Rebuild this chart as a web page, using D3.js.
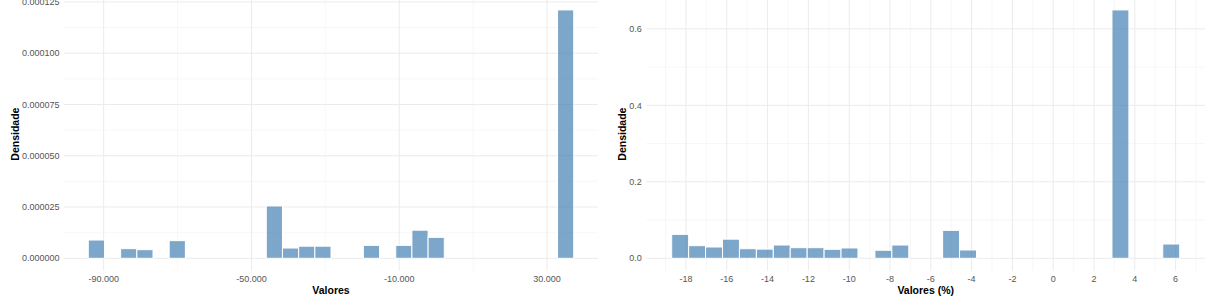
<!DOCTYPE html>
<html>
<head>
<meta charset="utf-8">
<script src="https://cdn.jsdelivr.net/npm/d3@7"></script>
<style>
  html, body { margin: 0; padding: 0; background: #fff; }
  svg { display: block; font-family: "Liberation Sans", Arial, sans-serif; }
</style>
</head>
<body>
<svg id="chart" width="1212" height="303"></svg>
<script>
// ── Data: histogram densities (30 bins each) ────────────
const absBinStart = -94170;
const absBinWidth = 4380;
const absDensity = [
  8.9e-6, 0, 4.7e-6, 4.2e-6, 0, 8.6e-6, 0, 0, 0, 0,
  0, 25.5e-6, 5.0e-6, 5.9e-6, 5.9e-6, 0, 0, 6.3e-6, 0, 6.3e-6,
  13.7e-6, 10.2e-6, 0, 0, 0, 0, 0, 0, 0, 121.1e-6
];
const absXMajor = [-90000, -50000, -10000, 30000];
const absXMinor = [-70000, -30000, 10000];
const absYMajor = [0, 0.000025, 0.00005, 0.000075, 0.0001, 0.000125];

const pctBinStart = -18.70;
const pctBinWidth = 0.830;
const pctDensity = [
  0.0626, 0.033, 0.0295, 0.050, 0.025, 0.024, 0.0347, 0.0277, 0.0277, 0.0235,
  0.027, 0, 0.021, 0.0347, 0, 0, 0.073, 0.0217, 0, 0,
  0, 0, 0, 0, 0, 0, 0.6496, 0, 0, 0.0373
];
const pctXMajor = [-18, -16, -14, -12, -10, -8, -6, -4, -2, 0, 2, 4, 6];
const pctXMinor = [-19, -17, -15, -13, -11, -9, -7, -5, -3, -1, 1, 3, 5, 7];
const pctYMajor = [0, 0.2, 0.4, 0.6];

// pt-BR style numbers ("-90.000")
const ptBR = d3.formatLocale({ decimal: ',', thousands: '.', grouping: [3], currency: ['R$', ''], minus: '-' });
const fmtThousands = ptBR.format(',.0f');
const fmtSix = d3.format('.6f');
const fmtOne = d3.format('.1f');
const fmtInt = d => d3.format('d')(d).replace('\u2212', '-');

const BAR_FILL = 'rgba(70,130,180,0.7)';
const GRID_MAJOR = '#ebebeb';
const GRID_MINOR = '#f4f4f4';
const TEXT_GREY = '#555';

const svg = d3.select('#chart');

function drawHistogram(opts) {
  const { binStart, binWidth, density, xMajor, xMinor, yMajor,
          xRange, yLabelX, xFmt, yFmt, xTitle } = opts;
  const yRange = [270.7, -2.5];

  const lo = binStart, hi = binStart + binWidth * density.length;
  const span = hi - lo;
  const x = d3.scaleLinear().domain([lo - span * 0.05, hi + span * 0.05]).range(xRange);
  const yMax = d3.max(density);
  const y = d3.scaleLinear().domain([-yMax * 0.05, yMax * 1.05]).range(yRange);

  const g = svg.append('g');

  // minor grid (half-steps between major y ticks)
  const yStep = yMajor[1] - yMajor[0];
  const yMinor = yMajor.map(v => v + yStep / 2).filter(v => y(v) > yRange[1]);
  g.append('g').selectAll('line').data(yMinor).join('line')
    .attr('x1', xRange[0]).attr('x2', xRange[1])
    .attr('y1', d => y(d)).attr('y2', d => y(d))
    .attr('stroke', GRID_MINOR).attr('stroke-width', 0.7);
  g.append('g').selectAll('line').data(xMinor.filter(v => x(v) >= xRange[0] && x(v) <= xRange[1])).join('line')
    .attr('x1', d => x(d)).attr('x2', d => x(d))
    .attr('y1', yRange[0]).attr('y2', yRange[1])
    .attr('stroke', GRID_MINOR).attr('stroke-width', 0.7);

  // major grid
  g.append('g').selectAll('line').data(yMajor).join('line')
    .attr('x1', xRange[0]).attr('x2', xRange[1])
    .attr('y1', d => y(d)).attr('y2', d => y(d))
    .attr('stroke', GRID_MAJOR).attr('stroke-width', 1);
  g.append('g').selectAll('line').data(xMajor).join('line')
    .attr('x1', d => x(d)).attr('x2', d => x(d))
    .attr('y1', yRange[0]).attr('y2', yRange[1])
    .attr('stroke', GRID_MAJOR).attr('stroke-width', 1);

  // bars
  g.append('g').selectAll('rect').data(density).join('rect')
    .attr('x', (d, i) => x(binStart + i * binWidth))
    .attr('width', x(binWidth) - x(0))
    .attr('y', d => y(d))
    .attr('height', d => y(0) - y(d))
    .attr('fill', BAR_FILL)
    .attr('stroke', d => d > 0 ? '#fff' : 'none')
    .attr('stroke-width', 1);

  // tick labels
  g.append('g').selectAll('text').data(xMajor).join('text')
    .attr('x', d => x(d)).attr('y', 281.5)
    .attr('text-anchor', 'middle')
    .attr('font-size', 9).attr('fill', TEXT_GREY)
    .text(xFmt);
  g.append('g').selectAll('text').data(yMajor).join('text')
    .attr('x', xRange[0] - 4.5).attr('y', d => y(d) + 3.2)
    .attr('text-anchor', 'end')
    .attr('font-size', 9).attr('fill', TEXT_GREY)
    .text(yFmt);

  // axis titles
  g.append('text')
    .attr('x', (xRange[0] + xRange[1]) / 2).attr('y', 294)
    .attr('text-anchor', 'middle')
    .attr('font-size', 10.5).attr('font-weight', 'bold').attr('fill', '#000')
    .text(xTitle);
  g.append('text')
    .attr('transform', `translate(${yLabelX},${(yRange[0] + yRange[1]) / 2}) rotate(-90)`)
    .attr('text-anchor', 'middle')
    .attr('font-size', 10.5).attr('font-weight', 'bold').attr('fill', '#000')
    .text('Densidade');
}

drawHistogram({
  binStart: absBinStart, binWidth: absBinWidth, density: absDensity,
  xMajor: absXMajor, xMinor: absXMinor, yMajor: absYMajor,
  xRange: [64, 598], yLabelX: 19, xFmt: fmtThousands, yFmt: fmtSix,
  xTitle: 'Valores'
});

drawHistogram({
  binStart: pctBinStart, binWidth: pctBinWidth, density: pctDensity,
  xMajor: pctXMajor, xMinor: pctXMinor, yMajor: pctYMajor,
  xRange: [646.3, 1205.1], yLabelX: 625.5, xFmt: fmtInt, yFmt: fmtOne,
  xTitle: 'Valores (%)'
});
</script>
</body>
</html>
